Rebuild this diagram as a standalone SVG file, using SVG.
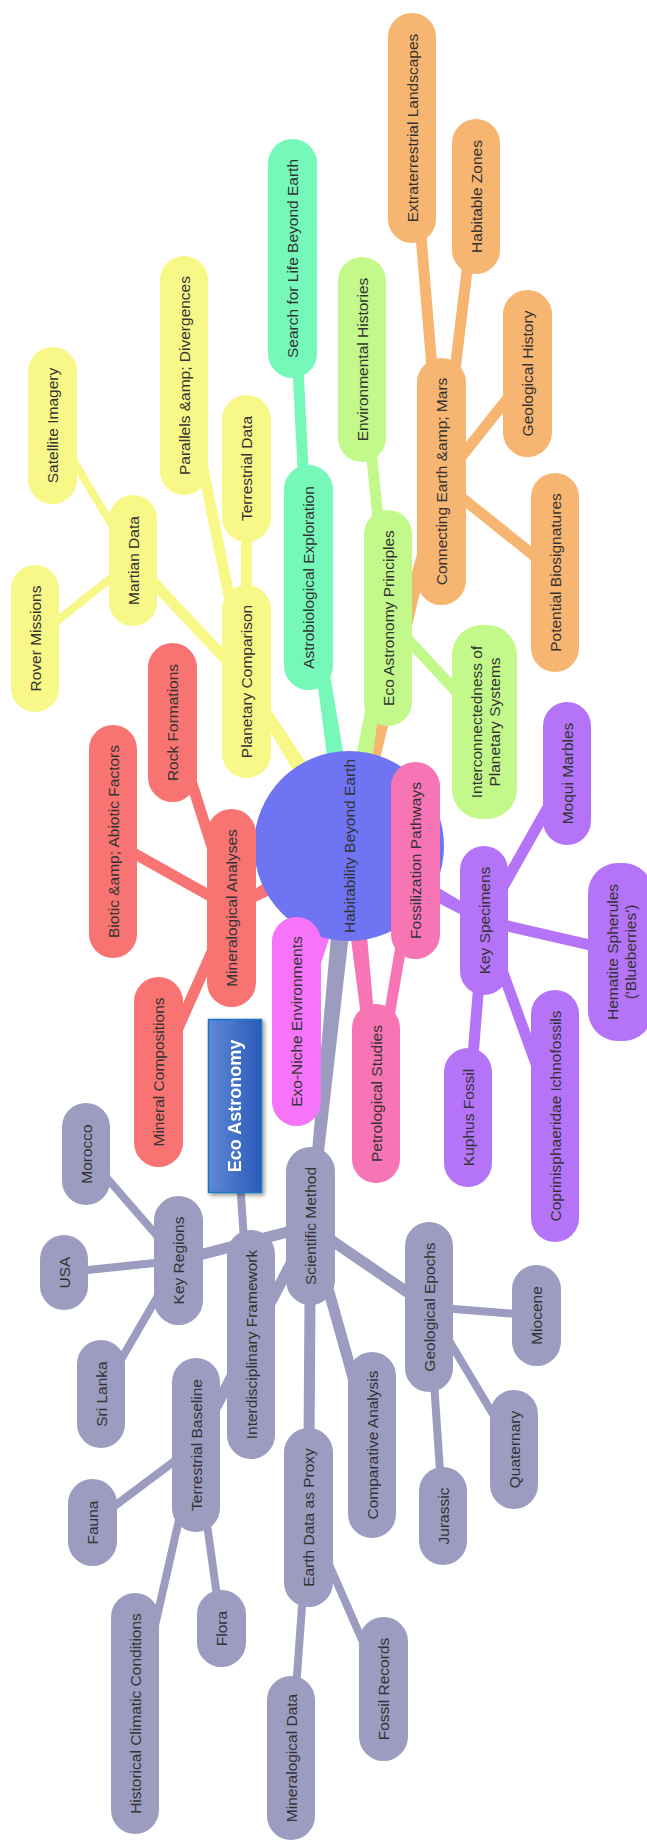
<svg xmlns="http://www.w3.org/2000/svg" width="647" height="1841" viewBox="0 0 647 1841">
<style>
text{font-family:"Liberation Sans",Arial,sans-serif;font-size:15.5px;fill:#333;text-anchor:middle;dominant-baseline:central}
.t{font-weight:bold;font-size:18px;fill:#fff}
.yl{fill:#F8F889}.gr{fill:#76F9B8}.lg{fill:#C2F98A}.or{fill:#F7B572}.rd{fill:#F77472}.pk{fill:#F774B5}.mg{fill:#F574F7}.pu{fill:#B574F7}.gy{fill:#9C9CC0}
line{stroke-linecap:round}
.ly{stroke:#F8F889}.lgn{stroke:#76F9B8}.llg{stroke:#C2F98A}.lor{stroke:#F7B572}.lrd{stroke:#F77472}.lpk{stroke:#F774B5}.lpu{stroke:#B574F7}.lgy{stroke:#9C9CC0}
.w1{stroke-width:11}.w2{stroke-width:8}
</style>
<defs>
<linearGradient id="tg" x1="0" y1="0" x2="1" y2="0"><stop offset="0" stop-color="#5F88D8"/><stop offset="1" stop-color="#2A5BB8"/></linearGradient>
<filter id="sh" x="-30%" y="-10%" width="160%" height="120%"><feDropShadow dx="2" dy="2" stdDeviation="2" flood-color="#000" flood-opacity="0.45"/></filter>
</defs>
<rect width="647" height="1841" fill="#fff"/>
<g id="connectors">
<polygon class="yl" points="357.5,840.7 250.7,678.9 242.3,684.1 340.5,851.3"/>
<polygon class="gr" points="358.9,844.5 313.4,576.8 303.6,578.2 339.1,847.5"/>
<polygon class="or" points="358.7,848.5 446.3,482.7 436.7,480.3 339.3,843.5"/>
<polygon class="lg" points="358.9,847.7 392.9,618.8 383.1,617.2 339.1,844.3"/>
<polygon class="rd" points="344.3,837.2 229.2,903.6 233.8,912.4 353.7,854.8"/>
<polygon class="mg" points="339.4,843.1 291.7,1020.6 301.3,1023.4 358.6,848.9"/>
<polygon class="pk" points="339.1,847.1 371,1094 381,1093 358.9,844.9"/>
<polygon class="pu" points="344.2,854.7 481.1,924.9 485.9,916.1 353.8,837.3"/>
<polygon class="gy" points="339,845 305.5,1225.5 315.5,1226.5 359,847"/>
<line class="ly w1" x1="246.5" y1="681.5" x2="133" y2="560.5"/>
<line class="ly w1" x1="246.5" y1="681.5" x2="246.5" y2="468.5"/>
<line class="ly w1" x1="246.5" y1="681.5" x2="184" y2="375.5"/>
<line class="ly w2" x1="133" y1="560.5" x2="52.5" y2="425.5"/>
<line class="ly w2" x1="133" y1="560.5" x2="35" y2="638.5"/>
<line class="lgn w1" x1="308.5" y1="577.5" x2="292.5" y2="258.5"/>
<line class="llg w1" x1="388" y1="618" x2="362" y2="359.5"/>
<line class="llg w1" x1="388" y1="618" x2="484.5" y2="722"/>
<line class="lor w1" x1="441.5" y1="481.5" x2="412" y2="128"/>
<line class="lor w1" x1="441.5" y1="481.5" x2="476" y2="196.5"/>
<line class="lor w1" x1="441.5" y1="481.5" x2="527.5" y2="373.5"/>
<line class="lor w1" x1="441.5" y1="481.5" x2="555" y2="572.5"/>
<line class="lrd w1" x1="231.5" y1="908" x2="172.5" y2="722.5"/>
<line class="lrd w1" x1="231.5" y1="908" x2="113" y2="841.5"/>
<line class="lrd w1" x1="231.5" y1="908" x2="158.5" y2="1072"/>
<line class="lpk w1" x1="376" y1="1093.5" x2="415.5" y2="860.5"/>
<line class="lpu w1" x1="484" y1="920.5" x2="567" y2="773.5"/>
<line class="lpu w1" x1="484" y1="920.5" x2="620.5" y2="952"/>
<line class="lpu w1" x1="484" y1="920.5" x2="555" y2="1116"/>
<line class="lpu w1" x1="484" y1="920.5" x2="468" y2="1117.5"/>
<line class="lgy w1" x1="310.5" y1="1226" x2="429" y2="1307"/>
<line class="lgy w1" x1="310.5" y1="1226" x2="372" y2="1445"/>
<line class="lgy w1" x1="310.5" y1="1226" x2="308.5" y2="1517.5"/>
<line class="lgy w1" x1="310.5" y1="1226" x2="178.5" y2="1260.5"/>
<line class="lgy w1" x1="310.5" y1="1226" x2="196" y2="1445"/>
<line class="lgy w2" x1="235" y1="1106" x2="251" y2="1344.5"/>
<line class="lgy w2" x1="429" y1="1307" x2="536.5" y2="1315.5"/>
<line class="lgy w2" x1="429" y1="1307" x2="514" y2="1449.5"/>
<line class="lgy w2" x1="429" y1="1307" x2="443" y2="1516"/>
<line class="lgy w2" x1="308.5" y1="1517.5" x2="291" y2="1758"/>
<line class="lgy w2" x1="308.5" y1="1517.5" x2="383.5" y2="1689"/>
<line class="lgy w2" x1="196" y1="1445" x2="92.5" y2="1522.5"/>
<line class="lgy w2" x1="196" y1="1445" x2="135" y2="1713.5"/>
<line class="lgy w2" x1="196" y1="1445" x2="221.5" y2="1628.5"/>
<line class="lgy w2" x1="178.5" y1="1260.5" x2="86" y2="1154"/>
<line class="lgy w2" x1="178.5" y1="1260.5" x2="64" y2="1272.5"/>
<line class="lgy w2" x1="178.5" y1="1260.5" x2="101" y2="1394"/>
</g>
<g id="root"><circle cx="349" cy="846" r="95" fill="#6F74F2"/><text x="349" y="846" transform="rotate(-90 349 846)">Habitability Beyond Earth</text></g>
<g id="title" filter="url(#sh)"><rect x="208.5" y="1019.5" width="53" height="173" fill="url(#tg)" stroke="#1C77C2" stroke-width="1.5"/><text class="t" x="235" y="1106" transform="rotate(-90 235 1106)">Eco Astronomy</text></g>
<g id="n-planetary"><rect class="yl" x="222" y="585" width="49" height="193" rx="24.5"/><text x="246.5" y="681.5" transform="rotate(-90 246.5 681.5)">Planetary Comparison</text></g>
<g id="n-martian"><rect class="yl" x="109" y="495" width="48" height="131" rx="24"/><text x="133" y="560.5" transform="rotate(-90 133 560.5)">Martian Data</text></g>
<g id="n-satellite"><rect class="yl" x="28" y="347" width="49" height="157" rx="24.5"/><text x="52.5" y="425.5" transform="rotate(-90 52.5 425.5)">Satellite Imagery</text></g>
<g id="n-rover"><rect class="yl" x="11" y="565" width="48" height="147" rx="24"/><text x="35" y="638.5" transform="rotate(-90 35 638.5)">Rover Missions</text></g>
<g id="n-terrdata"><rect class="yl" x="222" y="395" width="49" height="147" rx="24.5"/><text x="246.5" y="468.5" transform="rotate(-90 246.5 468.5)">Terrestrial Data</text></g>
<g id="n-parallels"><rect class="yl" x="160" y="256" width="48" height="239" rx="24"/><text x="184" y="375.5" transform="rotate(-90 184 375.5)">Parallels &amp;amp; Divergences</text></g>
<g id="n-astro"><rect class="gr" x="284" y="465" width="49" height="225" rx="24.5"/><text x="308.5" y="577.5" transform="rotate(-90 308.5 577.5)">Astrobiological Exploration</text></g>
<g id="n-search"><rect class="gr" x="268" y="139" width="49" height="239" rx="24.5"/><text x="292.5" y="258.5" transform="rotate(-90 292.5 258.5)">Search for Life Beyond Earth</text></g>
<g id="n-eap"><rect class="lg" x="364" y="510" width="48" height="216" rx="24"/><text x="388" y="618" transform="rotate(-90 388 618)">Eco Astronomy Principles</text></g>
<g id="n-envhist"><rect class="lg" x="338" y="257" width="48" height="205" rx="24"/><text x="362" y="359.5" transform="rotate(-90 362 359.5)">Environmental Histories</text></g>
<g id="n-inter"><rect class="lg" x="452" y="625" width="65" height="194" rx="30"/><text x="484.5" y="722" transform="rotate(-90 484.5 722)"><tspan x="484.5" dy="-9">Interconnectedness of</tspan><tspan x="484.5" dy="18">Planetary Systems</tspan></text></g>
<g id="n-cem"><rect class="or" x="417" y="358" width="49" height="247" rx="24.5"/><text x="441.5" y="481.5" transform="rotate(-90 441.5 481.5)">Connecting Earth &amp;amp; Mars</text></g>
<g id="n-extra"><rect class="or" x="388" y="13" width="48" height="230" rx="24"/><text x="412" y="128" transform="rotate(-90 412 128)">Extraterrestrial Landscapes</text></g>
<g id="n-habzones"><rect class="or" x="452" y="119" width="48" height="155" rx="24"/><text x="476" y="196.5" transform="rotate(-90 476 196.5)">Habitable Zones</text></g>
<g id="n-geohist"><rect class="or" x="503" y="290" width="49" height="167" rx="24.5"/><text x="527.5" y="373.5" transform="rotate(-90 527.5 373.5)">Geological History</text></g>
<g id="n-biosig"><rect class="or" x="531" y="473" width="48" height="199" rx="24"/><text x="555" y="572.5" transform="rotate(-90 555 572.5)">Potential Biosignatures</text></g>
<g id="n-minan"><rect class="rd" x="207" y="809" width="49" height="198" rx="24.5"/><text x="231.5" y="908" transform="rotate(-90 231.5 908)">Mineralogical Analyses</text></g>
<g id="n-rock"><rect class="rd" x="148" y="643" width="49" height="159" rx="24.5"/><text x="172.5" y="722.5" transform="rotate(-90 172.5 722.5)">Rock Formations</text></g>
<g id="n-biotic"><rect class="rd" x="89" y="725" width="48" height="233" rx="24"/><text x="113" y="841.5" transform="rotate(-90 113 841.5)">Biotic &amp;amp; Abiotic Factors</text></g>
<g id="n-mincomp"><rect class="rd" x="134" y="977" width="49" height="190" rx="24.5"/><text x="158.5" y="1072" transform="rotate(-90 158.5 1072)">Mineral Compositions</text></g>
<g id="n-exo"><rect class="mg" x="272" y="917" width="49" height="209" rx="24.5"/><text x="296.5" y="1021.5" transform="rotate(-90 296.5 1021.5)">Exo-Niche Environments</text></g>
<g id="n-fossil"><rect class="pk" x="391" y="762" width="49" height="197" rx="24.5"/><text x="415.5" y="860.5" transform="rotate(-90 415.5 860.5)">Fossilization Pathways</text></g>
<g id="n-petro"><rect class="pk" x="352" y="1004" width="48" height="179" rx="24"/><text x="376" y="1093.5" transform="rotate(-90 376 1093.5)">Petrological Studies</text></g>
<g id="n-keyspec"><rect class="pu" x="460" y="846" width="48" height="149" rx="24"/><text x="484" y="920.5" transform="rotate(-90 484 920.5)">Key Specimens</text></g>
<g id="n-moqui"><rect class="pu" x="543" y="702" width="48" height="143" rx="24"/><text x="567" y="773.5" transform="rotate(-90 567 773.5)">Moqui Marbles</text></g>
<g id="n-hematite"><rect class="pu" x="588" y="863" width="65" height="178" rx="30"/><text x="620.5" y="952" transform="rotate(-90 620.5 952)"><tspan x="620.5" dy="-9">Hematite Spherules</tspan><tspan x="620.5" dy="18">('Blueberries')</tspan></text></g>
<g id="n-copri"><rect class="pu" x="531" y="990" width="48" height="252" rx="24"/><text x="555" y="1116" transform="rotate(-90 555 1116)">Coprinisphaeridae Ichnofossils</text></g>
<g id="n-kuphus"><rect class="pu" x="444" y="1048" width="48" height="139" rx="24"/><text x="468" y="1117.5" transform="rotate(-90 468 1117.5)">Kuphus Fossil</text></g>
<g id="n-scimethod"><rect class="gy" x="286" y="1147" width="49" height="158" rx="24.5"/><text x="310.5" y="1226" transform="rotate(-90 310.5 1226)">Scientific Method</text></g>
<g id="n-interdisc"><rect class="gy" x="227" y="1230" width="48" height="229" rx="24"/><text x="251" y="1344.5" transform="rotate(-90 251 1344.5)">Interdisciplinary Framework</text></g>
<g id="n-keyreg"><rect class="gy" x="154" y="1196" width="49" height="129" rx="24.5"/><text x="178.5" y="1260.5" transform="rotate(-90 178.5 1260.5)">Key Regions</text></g>
<g id="n-morocco"><rect class="gy" x="62" y="1103" width="48" height="102" rx="24"/><text x="86" y="1154" transform="rotate(-90 86 1154)">Morocco</text></g>
<g id="n-usa"><rect class="gy" x="40" y="1235" width="48" height="75" rx="24"/><text x="64" y="1272.5" transform="rotate(-90 64 1272.5)">USA</text></g>
<g id="n-srilanka"><rect class="gy" x="77" y="1340" width="48" height="108" rx="24"/><text x="101" y="1394" transform="rotate(-90 101 1394)">Sri Lanka</text></g>
<g id="n-terrbase"><rect class="gy" x="172" y="1358" width="48" height="174" rx="24"/><text x="196" y="1445" transform="rotate(-90 196 1445)">Terrestrial Baseline</text></g>
<g id="n-fauna"><rect class="gy" x="68" y="1479" width="49" height="87" rx="24.5"/><text x="92.5" y="1522.5" transform="rotate(-90 92.5 1522.5)">Fauna</text></g>
<g id="n-histclim"><rect class="gy" x="111" y="1593" width="48" height="241" rx="24"/><text x="135" y="1713.5" transform="rotate(-90 135 1713.5)">Historical Climatic Conditions</text></g>
<g id="n-flora"><rect class="gy" x="197" y="1590" width="49" height="77" rx="24.5"/><text x="221.5" y="1628.5" transform="rotate(-90 221.5 1628.5)">Flora</text></g>
<g id="n-earthdata"><rect class="gy" x="284" y="1428" width="49" height="179" rx="24.5"/><text x="308.5" y="1517.5" transform="rotate(-90 308.5 1517.5)">Earth Data as Proxy</text></g>
<g id="n-mindata"><rect class="gy" x="267" y="1676" width="48" height="164" rx="24"/><text x="291" y="1758" transform="rotate(-90 291 1758)">Mineralogical Data</text></g>
<g id="n-fossrec"><rect class="gy" x="359" y="1617" width="49" height="144" rx="24.5"/><text x="383.5" y="1689" transform="rotate(-90 383.5 1689)">Fossil Records</text></g>
<g id="n-geoepochs"><rect class="gy" x="405" y="1222" width="48" height="170" rx="24"/><text x="429" y="1307" transform="rotate(-90 429 1307)">Geological Epochs</text></g>
<g id="n-miocene"><rect class="gy" x="512" y="1265" width="49" height="101" rx="24.5"/><text x="536.5" y="1315.5" transform="rotate(-90 536.5 1315.5)">Miocene</text></g>
<g id="n-quaternary"><rect class="gy" x="490" y="1390" width="48" height="119" rx="24"/><text x="514" y="1449.5" transform="rotate(-90 514 1449.5)">Quaternary</text></g>
<g id="n-jurassic"><rect class="gy" x="419" y="1467" width="48" height="98" rx="24"/><text x="443" y="1516" transform="rotate(-90 443 1516)">Jurassic</text></g>
<g id="n-compan"><rect class="gy" x="348" y="1352" width="48" height="186" rx="24"/><text x="372" y="1445" transform="rotate(-90 372 1445)">Comparative Analysis</text></g>
</svg>
